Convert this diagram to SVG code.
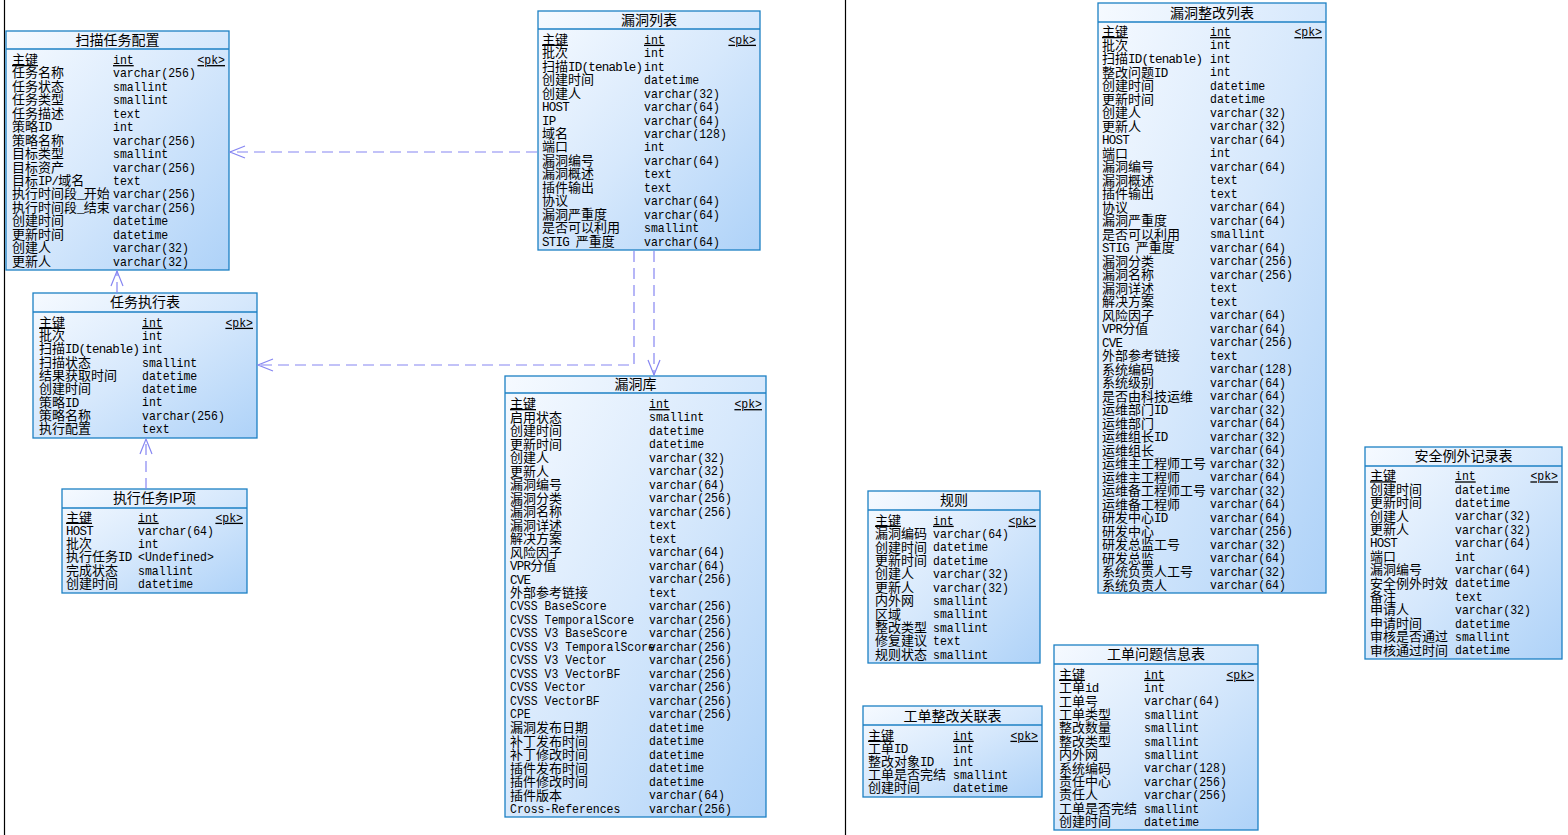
<svg xmlns="http://www.w3.org/2000/svg" width="1568" height="835" viewBox="0 0 1568 835">
  <defs>
    <linearGradient id="tbl" x1="0" y1="0" x2="1" y2="1">
      <stop offset="0" stop-color="#f6faff"/>
      <stop offset="0.5" stop-color="#d6e8fc"/>
      <stop offset="1" stop-color="#aed2f8"/>
    </linearGradient>
    <marker id="arr" markerUnits="userSpaceOnUse" markerWidth="16" markerHeight="14" refX="15" refY="6" orient="auto" overflow="visible">
      <path d="M0,0 L15,6 L0,12" fill="none" stroke="#8686f2" stroke-width="1.2"/>
    </marker>
    <style>
      .box { fill: url(#tbl); stroke: #1c80c4; stroke-width: 1.3; }
      .sep { stroke: #1c80c4; stroke-width: 1.3; }
      .t { font-family: "Noto Sans CJK SC", sans-serif; font-size: 14px; fill: #000; text-anchor: middle; }
      .n { font-family: "Liberation Mono", "Noto Sans CJK SC", monospace; font-size: 13px; fill: #000; }
      .m { font-size: 12.5px; letter-spacing: -0.75px; }
      .ty { font-family: "Liberation Mono", monospace; font-size: 13px; fill: #000; }
      .pk { font-family: "Liberation Mono", monospace; font-size: 13px; fill: #000; text-anchor: end; text-decoration: underline; }
      .u { text-decoration: underline; }
      .frame { stroke: #000; stroke-width: 1.2; }
      .link { fill: none; stroke: #8686f2; stroke-width: 1.2; stroke-dasharray: 11 6; marker-end: url(#arr); }
    </style>
  </defs>

  <rect width="1568" height="835" fill="#fff"/>
  <line class="frame" x1="4.5" y1="0" x2="4.5" y2="835"/>
  <line class="frame" x1="845.5" y1="0" x2="845.5" y2="835"/>

  <!-- scan task configuration -->
  <g id="scan-task-config">
    <rect class="box" x="6" y="31" width="223" height="239"/>
    <line class="sep" x1="6" y1="49" x2="229" y2="49"/>
    <text class="t" x="117.5" y="45">扫描任务配置</text>
    <text class="n u" x="12" y="64">主键</text>
    <text class="ty u" transform="translate(113 0) scale(.885 1)" x="0" y="64">int</text>
    <text class="pk" transform="translate(225 0) scale(.885 1)" x="0" y="64">&lt;pk&gt;</text>
    <text class="n" x="12" y="64">
      <tspan x="12" dy="13.45">任务名称</tspan>
      <tspan x="12" dy="13.45">任务状态</tspan>
      <tspan x="12" dy="13.45">任务类型</tspan>
      <tspan x="12" dy="13.45">任务描述</tspan>
      <tspan x="12" dy="13.45">策略<tspan class="m">ID</tspan></tspan>
      <tspan x="12" dy="13.45">策略名称</tspan>
      <tspan x="12" dy="13.45">目标类型</tspan>
      <tspan x="12" dy="13.45">目标资产</tspan>
      <tspan x="12" dy="13.45">目标<tspan class="m">IP/</tspan>域名</tspan>
      <tspan x="12" dy="13.45">执行时间段<tspan class="m">_</tspan>开始</tspan>
      <tspan x="12" dy="13.45">执行时间段<tspan class="m">_</tspan>结束</tspan>
      <tspan x="12" dy="13.45">创建时间</tspan>
      <tspan x="12" dy="13.45">更新时间</tspan>
      <tspan x="12" dy="13.45">创建人</tspan>
      <tspan x="12" dy="13.45">更新人</tspan>
    </text>
    <text class="ty" transform="translate(113 0) scale(.885 1)" x="0" y="64">
      <tspan x="0" dy="13.45">varchar(256)</tspan>
      <tspan x="0" dy="13.45">smallint</tspan>
      <tspan x="0" dy="13.45">smallint</tspan>
      <tspan x="0" dy="13.45">text</tspan>
      <tspan x="0" dy="13.45">int</tspan>
      <tspan x="0" dy="13.45">varchar(256)</tspan>
      <tspan x="0" dy="13.45">smallint</tspan>
      <tspan x="0" dy="13.45">varchar(256)</tspan>
      <tspan x="0" dy="13.45">text</tspan>
      <tspan x="0" dy="13.45">varchar(256)</tspan>
      <tspan x="0" dy="13.45">varchar(256)</tspan>
      <tspan x="0" dy="13.45">datetime</tspan>
      <tspan x="0" dy="13.45">datetime</tspan>
      <tspan x="0" dy="13.45">varchar(32)</tspan>
      <tspan x="0" dy="13.45">varchar(32)</tspan>
    </text>
  </g>

  <!-- vulnerability list -->
  <g id="vuln-list">
    <rect class="box" x="538" y="11" width="222" height="239"/>
    <line class="sep" x1="538" y1="29" x2="760" y2="29"/>
    <text class="t" x="649" y="25">漏洞列表</text>
    <text class="n u" x="542" y="43.7">主键</text>
    <text class="ty u" transform="translate(644 0) scale(.885 1)" x="0" y="43.7">int</text>
    <text class="pk" transform="translate(756 0) scale(.885 1)" x="0" y="43.7">&lt;pk&gt;</text>
    <text class="n" x="542" y="43.7">
      <tspan x="542" dy="13.47">批次</tspan>
      <tspan x="542" dy="13.47">扫描<tspan class="m">ID(tenable)</tspan></tspan>
      <tspan x="542" dy="13.47">创建时间</tspan>
      <tspan x="542" dy="13.47">创建人</tspan>
      <tspan x="542" dy="13.47" class="m">HOST</tspan>
      <tspan x="542" dy="13.47" class="m">IP</tspan>
      <tspan x="542" dy="13.47">域名</tspan>
      <tspan x="542" dy="13.47">端口</tspan>
      <tspan x="542" dy="13.47">漏洞编号</tspan>
      <tspan x="542" dy="13.47">漏洞概述</tspan>
      <tspan x="542" dy="13.47">插件输出</tspan>
      <tspan x="542" dy="13.47">协议</tspan>
      <tspan x="542" dy="13.47">漏洞严重度</tspan>
      <tspan x="542" dy="13.47">是否可以利用</tspan>
      <tspan x="542" dy="13.47"><tspan class="m">STIG </tspan>严重度</tspan>
    </text>
    <text class="ty" transform="translate(644 0) scale(.885 1)" x="0" y="43.7">
      <tspan x="0" dy="13.47">int</tspan>
      <tspan x="0" dy="13.47">int</tspan>
      <tspan x="0" dy="13.47">datetime</tspan>
      <tspan x="0" dy="13.47">varchar(32)</tspan>
      <tspan x="0" dy="13.47">varchar(64)</tspan>
      <tspan x="0" dy="13.47">varchar(64)</tspan>
      <tspan x="0" dy="13.47">varchar(128)</tspan>
      <tspan x="0" dy="13.47">int</tspan>
      <tspan x="0" dy="13.47">varchar(64)</tspan>
      <tspan x="0" dy="13.47">text</tspan>
      <tspan x="0" dy="13.47">text</tspan>
      <tspan x="0" dy="13.47">varchar(64)</tspan>
      <tspan x="0" dy="13.47">varchar(64)</tspan>
      <tspan x="0" dy="13.47">smallint</tspan>
      <tspan x="0" dy="13.47">varchar(64)</tspan>
    </text>
  </g>

  <!-- task execution -->
  <g id="task-execution">
    <rect class="box" x="33" y="293" width="224" height="145"/>
    <line class="sep" x1="33" y1="312" x2="257" y2="312"/>
    <text class="t" x="145" y="307">任务执行表</text>
    <text class="n u" x="39" y="326.7">主键</text>
    <text class="ty u" transform="translate(142 0) scale(.885 1)" x="0" y="326.7">int</text>
    <text class="pk" transform="translate(253 0) scale(.885 1)" x="0" y="326.7">&lt;pk&gt;</text>
    <text class="n" x="39" y="326.7">
      <tspan x="39" dy="13.3">批次</tspan>
      <tspan x="39" dy="13.3">扫描<tspan class="m">ID(tenable)</tspan></tspan>
      <tspan x="39" dy="13.3">扫描状态</tspan>
      <tspan x="39" dy="13.3">结果获取时间</tspan>
      <tspan x="39" dy="13.3">创建时间</tspan>
      <tspan x="39" dy="13.3">策略<tspan class="m">ID</tspan></tspan>
      <tspan x="39" dy="13.3">策略名称</tspan>
      <tspan x="39" dy="13.3">执行配置</tspan>
    </text>
    <text class="ty" transform="translate(142 0) scale(.885 1)" x="0" y="326.7">
      <tspan x="0" dy="13.3">int</tspan>
      <tspan x="0" dy="13.3">int</tspan>
      <tspan x="0" dy="13.3">smallint</tspan>
      <tspan x="0" dy="13.3">datetime</tspan>
      <tspan x="0" dy="13.3">datetime</tspan>
      <tspan x="0" dy="13.3">int</tspan>
      <tspan x="0" dy="13.3">varchar(256)</tspan>
      <tspan x="0" dy="13.3">text</tspan>
    </text>
  </g>

  <!-- execution task IP item -->
  <g id="task-ip-item">
    <rect class="box" x="62" y="489" width="185" height="104"/>
    <line class="sep" x1="62" y1="508" x2="247" y2="508"/>
    <text class="t" x="154.5" y="503">执行任务<tspan font-family="Liberation Sans, sans-serif">IP</tspan>项</text>
    <text class="n u" x="66" y="521.7">主键</text>
    <text class="ty u" transform="translate(138 0) scale(.885 1)" x="0" y="521.7">int</text>
    <text class="pk" transform="translate(243 0) scale(.885 1)" x="0" y="521.7">&lt;pk&gt;</text>
    <text class="n" x="66" y="521.7">
      <tspan x="66" dy="13.26" class="m">HOST</tspan>
      <tspan x="66" dy="13.26">批次</tspan>
      <tspan x="66" dy="13.26">执行任务<tspan class="m">ID</tspan></tspan>
      <tspan x="66" dy="13.26">完成状态</tspan>
      <tspan x="66" dy="13.26">创建时间</tspan>
    </text>
    <text class="ty" transform="translate(138 0) scale(.885 1)" x="0" y="521.7">
      <tspan x="0" dy="13.26">varchar(64)</tspan>
      <tspan x="0" dy="13.26">int</tspan>
      <tspan x="0" dy="13.26">&lt;Undefined&gt;</tspan>
      <tspan x="0" dy="13.26">smallint</tspan>
      <tspan x="0" dy="13.26">datetime</tspan>
    </text>
  </g>

  <!-- vulnerability library -->
  <g id="vuln-library">
    <rect class="box" x="505" y="376" width="261" height="441"/>
    <line class="sep" x1="505" y1="393" x2="766" y2="393"/>
    <text class="t" x="635.5" y="389">漏洞库</text>
    <text class="n u" x="510" y="408">主键</text>
    <text class="ty u" transform="translate(649 0) scale(.885 1)" x="0" y="408">int</text>
    <text class="pk" transform="translate(762 0) scale(.885 1)" x="0" y="408">&lt;pk&gt;</text>
    <text class="n" x="510" y="408">
      <tspan x="510" dy="13.5">启用状态</tspan>
      <tspan x="510" dy="13.5">创建时间</tspan>
      <tspan x="510" dy="13.5">更新时间</tspan>
      <tspan x="510" dy="13.5">创建人</tspan>
      <tspan x="510" dy="13.5">更新人</tspan>
      <tspan x="510" dy="13.5">漏洞编号</tspan>
      <tspan x="510" dy="13.5">漏洞分类</tspan>
      <tspan x="510" dy="13.5">漏洞名称</tspan>
      <tspan x="510" dy="13.5">漏洞详述</tspan>
      <tspan x="510" dy="13.5">解决方案</tspan>
      <tspan x="510" dy="13.5">风险因子</tspan>
      <tspan x="510" dy="13.5"><tspan class="m">VPR</tspan>分值</tspan>
      <tspan x="510" dy="13.5" class="m">CVE</tspan>
      <tspan x="510" dy="13.5">外部参考链接</tspan>
    </text>
    <text class="ty" transform="translate(510 0) scale(.885 1)" x="0" y="610.5">
      <tspan x="0" dy="0">CVSS BaseScore</tspan>
      <tspan x="0" dy="13.5">CVSS TemporalScore</tspan>
      <tspan x="0" dy="13.5">CVSS V3 BaseScore</tspan>
      <tspan x="0" dy="13.5">CVSS V3 TemporalScore</tspan>
      <tspan x="0" dy="13.5">CVSS V3 Vector</tspan>
      <tspan x="0" dy="13.5">CVSS V3 VectorBF</tspan>
      <tspan x="0" dy="13.5">CVSS Vector</tspan>
      <tspan x="0" dy="13.5">CVSS VectorBF</tspan>
      <tspan x="0" dy="13.5">CPE</tspan>
    </text>
    <text class="n" x="510" y="718.5">
      <tspan x="510" dy="13.5">漏洞发布日期</tspan>
      <tspan x="510" dy="13.5">补丁发布时间</tspan>
      <tspan x="510" dy="13.5">补丁修改时间</tspan>
      <tspan x="510" dy="13.5">插件发布时间</tspan>
      <tspan x="510" dy="13.5">插件修改时间</tspan>
      <tspan x="510" dy="13.5">插件版本</tspan>
    </text>
    <text class="ty" transform="translate(510 0) scale(.885 1)" x="0" y="813">Cross-References</text>
    <text class="ty" transform="translate(649 0) scale(.885 1)" x="0" y="408">
      <tspan x="0" dy="13.5">smallint</tspan>
      <tspan x="0" dy="13.5">datetime</tspan>
      <tspan x="0" dy="13.5">datetime</tspan>
      <tspan x="0" dy="13.5">varchar(32)</tspan>
      <tspan x="0" dy="13.5">varchar(32)</tspan>
      <tspan x="0" dy="13.5">varchar(64)</tspan>
      <tspan x="0" dy="13.5">varchar(256)</tspan>
      <tspan x="0" dy="13.5">varchar(256)</tspan>
      <tspan x="0" dy="13.5">text</tspan>
      <tspan x="0" dy="13.5">text</tspan>
      <tspan x="0" dy="13.5">varchar(64)</tspan>
      <tspan x="0" dy="13.5">varchar(64)</tspan>
      <tspan x="0" dy="13.5">varchar(256)</tspan>
      <tspan x="0" dy="13.5">text</tspan>
      <tspan x="0" dy="13.5">varchar(256)</tspan>
      <tspan x="0" dy="13.5">varchar(256)</tspan>
      <tspan x="0" dy="13.5">varchar(256)</tspan>
      <tspan x="0" dy="13.5">varchar(256)</tspan>
      <tspan x="0" dy="13.5">varchar(256)</tspan>
      <tspan x="0" dy="13.5">varchar(256)</tspan>
      <tspan x="0" dy="13.5">varchar(256)</tspan>
      <tspan x="0" dy="13.5">varchar(256)</tspan>
      <tspan x="0" dy="13.5">varchar(256)</tspan>
      <tspan x="0" dy="13.5">datetime</tspan>
      <tspan x="0" dy="13.5">datetime</tspan>
      <tspan x="0" dy="13.5">datetime</tspan>
      <tspan x="0" dy="13.5">datetime</tspan>
      <tspan x="0" dy="13.5">datetime</tspan>
      <tspan x="0" dy="13.5">varchar(64)</tspan>
      <tspan x="0" dy="13.5">varchar(256)</tspan>
    </text>
  </g>

  <!-- vulnerability remediation list -->
  <g id="vuln-remediation">
    <rect class="box" x="1098" y="3" width="228" height="590"/>
    <line class="sep" x1="1098" y1="22" x2="1326" y2="22"/>
    <text class="t" x="1212" y="18">漏洞整改列表</text>
    <text class="n u" x="1102" y="36">主键</text>
    <text class="ty u" transform="translate(1210 0) scale(.885 1)" x="0" y="36">int</text>
    <text class="pk" transform="translate(1322 0) scale(.885 1)" x="0" y="36">&lt;pk&gt;</text>
    <text class="n" x="1102" y="36">
      <tspan x="1102" dy="13.5">批次</tspan>
      <tspan x="1102" dy="13.5">扫描<tspan class="m">ID(tenable)</tspan></tspan>
      <tspan x="1102" dy="13.5">整改问题<tspan class="m">ID</tspan></tspan>
      <tspan x="1102" dy="13.5">创建时间</tspan>
      <tspan x="1102" dy="13.5">更新时间</tspan>
      <tspan x="1102" dy="13.5">创建人</tspan>
      <tspan x="1102" dy="13.5">更新人</tspan>
      <tspan x="1102" dy="13.5" class="m">HOST</tspan>
      <tspan x="1102" dy="13.5">端口</tspan>
      <tspan x="1102" dy="13.5">漏洞编号</tspan>
      <tspan x="1102" dy="13.5">漏洞概述</tspan>
      <tspan x="1102" dy="13.5">插件输出</tspan>
      <tspan x="1102" dy="13.5">协议</tspan>
      <tspan x="1102" dy="13.5">漏洞严重度</tspan>
      <tspan x="1102" dy="13.5">是否可以利用</tspan>
      <tspan x="1102" dy="13.5"><tspan class="m">STIG </tspan>严重度</tspan>
      <tspan x="1102" dy="13.5">漏洞分类</tspan>
      <tspan x="1102" dy="13.5">漏洞名称</tspan>
      <tspan x="1102" dy="13.5">漏洞详述</tspan>
      <tspan x="1102" dy="13.5">解决方案</tspan>
      <tspan x="1102" dy="13.5">风险因子</tspan>
      <tspan x="1102" dy="13.5"><tspan class="m">VPR</tspan>分值</tspan>
      <tspan x="1102" dy="13.5" class="m">CVE</tspan>
      <tspan x="1102" dy="13.5">外部参考链接</tspan>
      <tspan x="1102" dy="13.5">系统编码</tspan>
      <tspan x="1102" dy="13.5">系统级别</tspan>
      <tspan x="1102" dy="13.5">是否由科技运维</tspan>
      <tspan x="1102" dy="13.5">运维部门<tspan class="m">ID</tspan></tspan>
      <tspan x="1102" dy="13.5">运维部门</tspan>
      <tspan x="1102" dy="13.5">运维组长<tspan class="m">ID</tspan></tspan>
      <tspan x="1102" dy="13.5">运维组长</tspan>
      <tspan x="1102" dy="13.5">运维主工程师工号</tspan>
      <tspan x="1102" dy="13.5">运维主工程师</tspan>
      <tspan x="1102" dy="13.5">运维备工程师工号</tspan>
      <tspan x="1102" dy="13.5">运维备工程师</tspan>
      <tspan x="1102" dy="13.5">研发中心<tspan class="m">ID</tspan></tspan>
      <tspan x="1102" dy="13.5">研发中心</tspan>
      <tspan x="1102" dy="13.5">研发总监工号</tspan>
      <tspan x="1102" dy="13.5">研发总监</tspan>
      <tspan x="1102" dy="13.5">系统负责人工号</tspan>
      <tspan x="1102" dy="13.5">系统负责人</tspan>
    </text>
    <text class="ty" transform="translate(1210 0) scale(.885 1)" x="0" y="36">
      <tspan x="0" dy="13.5">int</tspan>
      <tspan x="0" dy="13.5">int</tspan>
      <tspan x="0" dy="13.5">int</tspan>
      <tspan x="0" dy="13.5">datetime</tspan>
      <tspan x="0" dy="13.5">datetime</tspan>
      <tspan x="0" dy="13.5">varchar(32)</tspan>
      <tspan x="0" dy="13.5">varchar(32)</tspan>
      <tspan x="0" dy="13.5">varchar(64)</tspan>
      <tspan x="0" dy="13.5">int</tspan>
      <tspan x="0" dy="13.5">varchar(64)</tspan>
      <tspan x="0" dy="13.5">text</tspan>
      <tspan x="0" dy="13.5">text</tspan>
      <tspan x="0" dy="13.5">varchar(64)</tspan>
      <tspan x="0" dy="13.5">varchar(64)</tspan>
      <tspan x="0" dy="13.5">smallint</tspan>
      <tspan x="0" dy="13.5">varchar(64)</tspan>
      <tspan x="0" dy="13.5">varchar(256)</tspan>
      <tspan x="0" dy="13.5">varchar(256)</tspan>
      <tspan x="0" dy="13.5">text</tspan>
      <tspan x="0" dy="13.5">text</tspan>
      <tspan x="0" dy="13.5">varchar(64)</tspan>
      <tspan x="0" dy="13.5">varchar(64)</tspan>
      <tspan x="0" dy="13.5">varchar(256)</tspan>
      <tspan x="0" dy="13.5">text</tspan>
      <tspan x="0" dy="13.5">varchar(128)</tspan>
      <tspan x="0" dy="13.5">varchar(64)</tspan>
      <tspan x="0" dy="13.5">varchar(64)</tspan>
      <tspan x="0" dy="13.5">varchar(32)</tspan>
      <tspan x="0" dy="13.5">varchar(64)</tspan>
      <tspan x="0" dy="13.5">varchar(32)</tspan>
      <tspan x="0" dy="13.5">varchar(64)</tspan>
      <tspan x="0" dy="13.5">varchar(32)</tspan>
      <tspan x="0" dy="13.5">varchar(64)</tspan>
      <tspan x="0" dy="13.5">varchar(32)</tspan>
      <tspan x="0" dy="13.5">varchar(64)</tspan>
      <tspan x="0" dy="13.5">varchar(64)</tspan>
      <tspan x="0" dy="13.5">varchar(256)</tspan>
      <tspan x="0" dy="13.5">varchar(32)</tspan>
      <tspan x="0" dy="13.5">varchar(64)</tspan>
      <tspan x="0" dy="13.5">varchar(32)</tspan>
      <tspan x="0" dy="13.5">varchar(64)</tspan>
    </text>
  </g>

  <!-- rules -->
  <g id="rules">
    <rect class="box" x="868" y="491" width="172" height="172"/>
    <line class="sep" x1="868" y1="510" x2="1040" y2="510"/>
    <text class="t" x="954" y="505">规则</text>
    <text class="n u" x="875" y="524.7">主键</text>
    <text class="ty u" transform="translate(933 0) scale(.885 1)" x="0" y="524.7">int</text>
    <text class="pk" transform="translate(1036 0) scale(.885 1)" x="0" y="524.7">&lt;pk&gt;</text>
    <text class="n" x="875" y="524.7">
      <tspan x="875" dy="13.4">漏洞编码</tspan>
      <tspan x="875" dy="13.4">创建时间</tspan>
      <tspan x="875" dy="13.4">更新时间</tspan>
      <tspan x="875" dy="13.4">创建人</tspan>
      <tspan x="875" dy="13.4">更新人</tspan>
      <tspan x="875" dy="13.4">内外网</tspan>
      <tspan x="875" dy="13.4">区域</tspan>
      <tspan x="875" dy="13.4">整改类型</tspan>
      <tspan x="875" dy="13.4">修复建议</tspan>
      <tspan x="875" dy="13.4">规则状态</tspan>
    </text>
    <text class="ty" transform="translate(933 0) scale(.885 1)" x="0" y="524.7">
      <tspan x="0" dy="13.4">varchar(64)</tspan>
      <tspan x="0" dy="13.4">datetime</tspan>
      <tspan x="0" dy="13.4">datetime</tspan>
      <tspan x="0" dy="13.4">varchar(32)</tspan>
      <tspan x="0" dy="13.4">varchar(32)</tspan>
      <tspan x="0" dy="13.4">smallint</tspan>
      <tspan x="0" dy="13.4">smallint</tspan>
      <tspan x="0" dy="13.4">smallint</tspan>
      <tspan x="0" dy="13.4">text</tspan>
      <tspan x="0" dy="13.4">smallint</tspan>
    </text>
  </g>

  <!-- work order remediation link -->
  <g id="work-order-link">
    <rect class="box" x="863" y="706" width="179" height="91"/>
    <line class="sep" x1="863" y1="725" x2="1042" y2="725"/>
    <text class="t" x="952.5" y="721">工单整改关联表</text>
    <text class="n u" x="868" y="739.7">主键</text>
    <text class="ty u" transform="translate(953 0) scale(.885 1)" x="0" y="739.7">int</text>
    <text class="pk" transform="translate(1038 0) scale(.885 1)" x="0" y="739.7">&lt;pk&gt;</text>
    <text class="n" x="868" y="739.7">
      <tspan x="868" dy="13.1">工单<tspan class="m">ID</tspan></tspan>
      <tspan x="868" dy="13.1">整改对象<tspan class="m">ID</tspan></tspan>
      <tspan x="868" dy="13.1">工单是否完结</tspan>
      <tspan x="868" dy="13.1">创建时间</tspan>
    </text>
    <text class="ty" transform="translate(953 0) scale(.885 1)" x="0" y="739.7">
      <tspan x="0" dy="13.1">int</tspan>
      <tspan x="0" dy="13.1">int</tspan>
      <tspan x="0" dy="13.1">smallint</tspan>
      <tspan x="0" dy="13.1">datetime</tspan>
    </text>
  </g>

  <!-- work order issue info -->
  <g id="work-order-issue">
    <rect class="box" x="1054" y="645" width="204" height="185"/>
    <line class="sep" x1="1054" y1="664" x2="1258" y2="664"/>
    <text class="t" x="1156" y="659">工单问题信息表</text>
    <text class="n u" x="1059" y="678.7">主键</text>
    <text class="ty u" transform="translate(1144 0) scale(.885 1)" x="0" y="678.7">int</text>
    <text class="pk" transform="translate(1254 0) scale(.885 1)" x="0" y="678.7">&lt;pk&gt;</text>
    <text class="n" x="1059" y="678.7">
      <tspan x="1059" dy="13.4">工单<tspan class="m">id</tspan></tspan>
      <tspan x="1059" dy="13.4">工单号</tspan>
      <tspan x="1059" dy="13.4">工单类型</tspan>
      <tspan x="1059" dy="13.4">整改数量</tspan>
      <tspan x="1059" dy="13.4">整改类型</tspan>
      <tspan x="1059" dy="13.4">内外网</tspan>
      <tspan x="1059" dy="13.4">系统编码</tspan>
      <tspan x="1059" dy="13.4">责任中心</tspan>
      <tspan x="1059" dy="13.4">责任人</tspan>
      <tspan x="1059" dy="13.4">工单是否完结</tspan>
      <tspan x="1059" dy="13.4">创建时间</tspan>
    </text>
    <text class="ty" transform="translate(1144 0) scale(.885 1)" x="0" y="678.7">
      <tspan x="0" dy="13.4">int</tspan>
      <tspan x="0" dy="13.4">varchar(64)</tspan>
      <tspan x="0" dy="13.4">smallint</tspan>
      <tspan x="0" dy="13.4">smallint</tspan>
      <tspan x="0" dy="13.4">smallint</tspan>
      <tspan x="0" dy="13.4">smallint</tspan>
      <tspan x="0" dy="13.4">varchar(128)</tspan>
      <tspan x="0" dy="13.4">varchar(256)</tspan>
      <tspan x="0" dy="13.4">varchar(256)</tspan>
      <tspan x="0" dy="13.4">smallint</tspan>
      <tspan x="0" dy="13.4">datetime</tspan>
    </text>
  </g>

  <!-- security exception records -->
  <g id="security-exception">
    <rect class="box" x="1365" y="447" width="197" height="212"/>
    <line class="sep" x1="1365" y1="466" x2="1562" y2="466"/>
    <text class="t" x="1463.5" y="461">安全例外记录表</text>
    <text class="n u" x="1370" y="480.3">主键</text>
    <text class="ty u" transform="translate(1455 0) scale(.885 1)" x="0" y="480.3">int</text>
    <text class="pk" transform="translate(1558 0) scale(.885 1)" x="0" y="480.3">&lt;pk&gt;</text>
    <text class="n" x="1370" y="480.3">
      <tspan x="1370" dy="13.4">创建时间</tspan>
      <tspan x="1370" dy="13.4">更新时间</tspan>
      <tspan x="1370" dy="13.4">创建人</tspan>
      <tspan x="1370" dy="13.4">更新人</tspan>
      <tspan x="1370" dy="13.4" class="m">HOST</tspan>
      <tspan x="1370" dy="13.4">端口</tspan>
      <tspan x="1370" dy="13.4">漏洞编号</tspan>
      <tspan x="1370" dy="13.4">安全例外时效</tspan>
      <tspan x="1370" dy="13.4">备注</tspan>
      <tspan x="1370" dy="13.4">申请人</tspan>
      <tspan x="1370" dy="13.4">申请时间</tspan>
      <tspan x="1370" dy="13.4">审核是否通过</tspan>
      <tspan x="1370" dy="13.4">审核通过时间</tspan>
    </text>
    <text class="ty" transform="translate(1455 0) scale(.885 1)" x="0" y="480.3">
      <tspan x="0" dy="13.4">datetime</tspan>
      <tspan x="0" dy="13.4">datetime</tspan>
      <tspan x="0" dy="13.4">varchar(32)</tspan>
      <tspan x="0" dy="13.4">varchar(32)</tspan>
      <tspan x="0" dy="13.4">varchar(64)</tspan>
      <tspan x="0" dy="13.4">int</tspan>
      <tspan x="0" dy="13.4">varchar(64)</tspan>
      <tspan x="0" dy="13.4">datetime</tspan>
      <tspan x="0" dy="13.4">text</tspan>
      <tspan x="0" dy="13.4">varchar(32)</tspan>
      <tspan x="0" dy="13.4">datetime</tspan>
      <tspan x="0" dy="13.4">smallint</tspan>
      <tspan x="0" dy="13.4">datetime</tspan>
    </text>
  </g>

  <!-- references between tables -->
  <g id="connectors">
    <path class="link" d="M537,152 H230"/>
    <path class="link" d="M634,251 V365 H258"/>
    <path class="link" d="M654,251 V375"/>
    <path class="link" d="M117,293 V271"/>
    <path class="link" d="M146,489 V439"/>
  </g>
</svg>
